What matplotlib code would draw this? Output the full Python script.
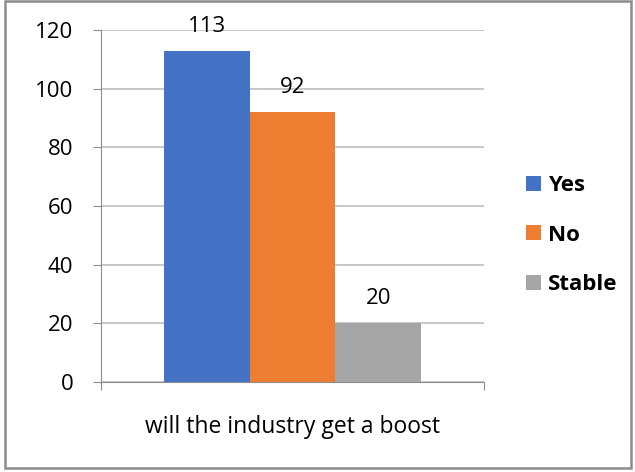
import matplotlib.pyplot as plt
from matplotlib.patches import Rectangle

categories = ["will the industry get a boost"]
series = ["Yes", "No", "Stable"]
values = [113, 92, 20]
colors = ["#4472C4", "#ED7D31", "#A5A5A5"]
yticks = [0, 20, 40, 60, 80, 100, 120]

plt.rcParams['font.family'] = ['Open Sans', 'DejaVu Sans']

fig = plt.figure(figsize=(6.35, 4.72), dpi=100)
ax = fig.add_axes([0.159, 0.191, 0.603, 0.745])

# outer frame like the office chart border
fig.patches.append(Rectangle((0.008, 0.008), 0.986, 0.99, transform=fig.transFigure,
                             fill=False, edgecolor="#8c8c8c", linewidth=1.8))

bw = 0.224
for i, (s, v, c) in enumerate(zip(series, values, colors)):
    x = (i - 1) * bw
    ax.bar(x, v, width=bw, color=c, label=s, zorder=3)
    ax.annotate(str(v), (x, v), xytext=(0, 10), textcoords="offset points",
                ha="center", va="bottom", fontsize=16, color="#000000",
                annotation_clip=False, zorder=4)

ax.set_xlim(-0.5, 0.5)
ax.set_ylim(0, 120)
ax.set_yticks(yticks)
ax.tick_params(axis="y", length=6, color="#8c8c8c", labelsize=16, pad=14)
ax.set_xticks([-0.5, 0.5])
ax.set_xticklabels(["", ""])
ax.tick_params(axis="x", length=6, color="#8c8c8c", direction="out")
ax.grid(axis="y", color="#bfbfbf", linewidth=1.2, zorder=0)
for sp in ["top", "right"]:
    ax.spines[sp].set_visible(False)
ax.spines["left"].set_color("#8c8c8c")
ax.spines["bottom"].set_color("#8c8c8c")
ax.text(0, -0.128, categories[0], transform=ax.get_xaxis_transform(),
        ha="center", va="center", fontsize=16.5)

leg = fig.legend(loc="center left", bbox_to_anchor=(0.828, 0.502), frameon=False,
                 prop={"weight": "bold", "size": 16}, handlelength=0.68,
                 handleheight=0.68, labelspacing=1.28, handletextpad=0.3,
                 borderpad=0, borderaxespad=0)

fig.savefig("out.png", dpi=100)
